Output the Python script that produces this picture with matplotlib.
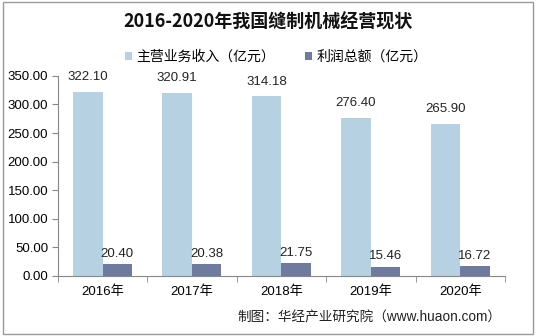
import matplotlib.pyplot as plt
import numpy as np
from matplotlib.patches import Rectangle

plt.rcParams['font.family'] = ['Liberation Sans', 'Noto Sans CJK SC', 'DejaVu Sans']

years = ['2016年', '2017年', '2018年', '2019年', '2020年']
revenue = [322.10, 320.91, 314.18, 276.40, 265.90]
profit = [20.40, 20.38, 21.75, 15.46, 16.72]

c_rev = '#b5d1e2'
c_pro = '#6f7b9e'

fig = plt.figure(figsize=(5.36, 3.36), dpi=100)
ax = fig.add_axes([0.108, 0.179, 0.834, 0.595])

x = np.arange(len(years))
w = 0.33
b1 = ax.bar(x - w / 2, revenue, w, color=c_rev, label='主营业务收入（亿元）')
b2 = ax.bar(x + w / 2, profit, w, color=c_pro, label='利润总额（亿元）')

for rect, v in zip(b1, revenue):
    ax.text(rect.get_x() + rect.get_width() / 2, v + 15, f'{v:.2f}',
            ha='center', va='bottom', fontsize=9.5, color='#222222')
for rect, v in zip(b2, profit):
    ax.text(rect.get_x() + rect.get_width() / 2, v + 8, f'{v:.2f}',
            ha='center', va='bottom', fontsize=9.5, color='#222222')

ax.set_xlim(-0.5, len(years) - 0.5)
ax.set_ylim(0, 350)
ax.set_yticks(np.arange(0, 351, 50))
ax.set_yticklabels([f'{v:.2f}' for v in np.arange(0, 351, 50)], fontsize=9.5)
ax.set_xticks(x)
ax.set_xticklabels(years, fontsize=9.5)
ax.set_xticks(np.arange(-0.5, len(years), 1), minor=True)
ax.tick_params(axis='x', which='major', length=0, pad=7)
ax.tick_params(axis='x', which='minor', length=4, color='#888888')
ax.tick_params(axis='y', length=4, color='#888888', pad=3)

for s in ['top', 'right']:
    ax.spines[s].set_visible(False)
for s in ['left', 'bottom']:
    ax.spines[s].set_color('#888888')
    ax.spines[s].set_linewidth(0.8)

fig.text(0.5, 0.935, '2016-2020年我国缝制机械经营现状', ha='center', va='center',
         fontsize=13, fontweight='bold', family=['Noto Sans CJK SC'], color='#111111')

fig.legend(handles=[b1, b2], loc='center', bbox_to_anchor=(0.515, 0.83), ncol=2,
           frameon=False, fontsize=10, handlelength=0.5, handleheight=0.5,
           handletextpad=0.3, columnspacing=2.2)

fig.text(0.935, 0.055, '制图：华经产业研究院（www.huaon.com）', ha='right', va='center',
         fontsize=9.8, color='#222222')

fig.patches.append(Rectangle((0.006, 0.006), 0.988, 0.988, transform=fig.transFigure,
                             fill=False, edgecolor='#999999', linewidth=1))

fig.savefig('out.png', dpi=100)
